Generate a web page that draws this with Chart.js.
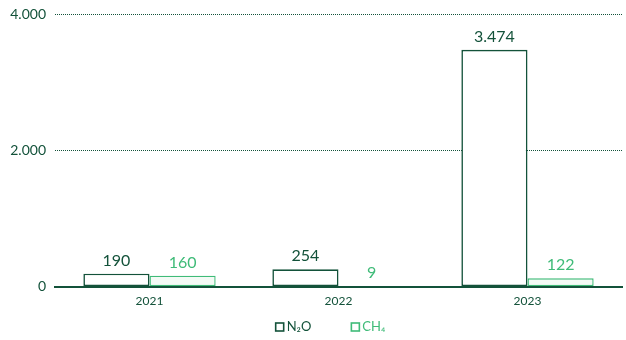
<!DOCTYPE html>
<html>
<head>
<meta charset="utf-8">
<script src="https://cdn.jsdelivr.net/npm/chart.js@4.4.1/dist/chart.umd.min.js"></script>
<style>
  html, body { margin: 0; padding: 0; background: #ffffff; }
  #wrap { width: 626px; height: 340px; }
</style>
</head>
<body>
<div id="wrap"><canvas id="c" width="626" height="340"></canvas></div>
<script>
// Emissions by year (tonnes CO2e)
const years = ['2021', '2022', '2023'];
const n2oValues = [190, 254, 3474];
const ch4Values = [160, 9, 122];
const seriesNames = ['N\u2082O', 'CH\u2084'];
const yTicks = [0, 2000, 4000];

const DARK = '#13523a';
const LIGHT = '#3fbb78';
const FONT = 'Lato, "Noto Sans", sans-serif';

const fmt = v => v.toLocaleString('de-DE');

// Writes each bar's value above it, in the dataset's colour
const valueLabels = {
  id: 'valueLabels',
  afterDatasetsDraw(chart) {
    const ctx = chart.ctx;
    ctx.save();
    ctx.font = '16px ' + FONT;
    ctx.textAlign = 'center';
    ctx.textBaseline = 'middle';
    chart.data.datasets.forEach((ds, di) => {
      const meta = chart.getDatasetMeta(di);
      ctx.fillStyle = ds.labelColor;
      meta.data.forEach((bar, i) => {
        ctx.fillText(fmt(ds.data[i]), bar.x, bar.y - 13);
      });
    });
    ctx.restore();
  }
};

// Legend row under the axis: outlined square + series name
const bottomLegend = {
  id: 'bottomLegend',
  afterDraw(chart) {
    const ctx = chart.ctx;
    const y = 327;
    const box = 8;
    const gap = 3;
    const itemGap = 40;
    const centre = (chart.chartArea.left + chart.chartArea.right) / 2 - 8;
    ctx.save();
    ctx.font = '13px ' + FONT;
    ctx.textBaseline = 'middle';
    const items = chart.data.datasets.map(ds => ({
      text: ds.label, stroke: ds.borderColor, color: ds.labelColor,
      w: box + gap + ctx.measureText(ds.label).width
    }));
    const total = items.reduce((s, it) => s + it.w, 0) + itemGap * (items.length - 1);
    let x = centre - total / 2;
    items.forEach(it => {
      ctx.strokeStyle = it.stroke;
      ctx.lineWidth = 1.6;
      ctx.fillStyle = '#ffffff';
      ctx.fillRect(x, y - box / 2, box, box);
      ctx.strokeRect(x, y - box / 2, box, box);
      ctx.fillStyle = it.color;
      ctx.fillText(it.text, x + box + gap, y);
      x += it.w + itemGap;
    });
    ctx.restore();
  }
};

new Chart(document.getElementById('c'), {
  type: 'bar',
  data: {
    labels: years,
    datasets: [
      {
        label: seriesNames[0],
        data: n2oValues,
        backgroundColor: '#ffffff',
        borderColor: DARK,
        borderWidth: 1.6,
        borderSkipped: false,
        labelColor: DARK,
        categoryPercentage: 0.7,
        barPercentage: 1.0
      },
      {
        label: seriesNames[1],
        data: ch4Values,
        backgroundColor: '#f3faf5',
        borderColor: LIGHT,
        borderWidth: 1.4,
        borderSkipped: false,
        labelColor: LIGHT,
        categoryPercentage: 0.7,
        barPercentage: 1.0
      }
    ]
  },
  options: {
    responsive: false,
    animation: false,
    layout: { padding: { top: 14, right: 4, left: 0, bottom: 25 } },
    scales: {
      x: {
        grid: { display: false, drawTicks: false },
        border: { display: true, color: DARK, width: 2 },
        ticks: { color: DARK, font: { family: FONT, size: 12 }, padding: 7 }
      },
      y: {
        min: 0,
        max: 4000,
        afterFit(scale) {
          scale.width = 55;
          scale.paddingTop = 0;
          scale.paddingBottom = 0;
        },
        afterBuildTicks(scale) { scale.ticks = yTicks.map(v => ({ value: v })); },
        grid: {
          color: ctx => (ctx.tick && ctx.tick.value === 0) ? 'rgba(0,0,0,0)' : DARK,
          lineWidth: 1,
          drawTicks: false
        },
        border: { display: false, dash: [1, 1] },
        ticks: {
          color: DARK,
          padding: 9,
          font: { family: FONT, size: 14 },
          callback: v => fmt(v)
        }
      }
    },
    plugins: {
      tooltip: { enabled: false },
      legend: { display: false }
    }
  },
  plugins: [valueLabels, bottomLegend]
});
</script>
</body>
</html>
